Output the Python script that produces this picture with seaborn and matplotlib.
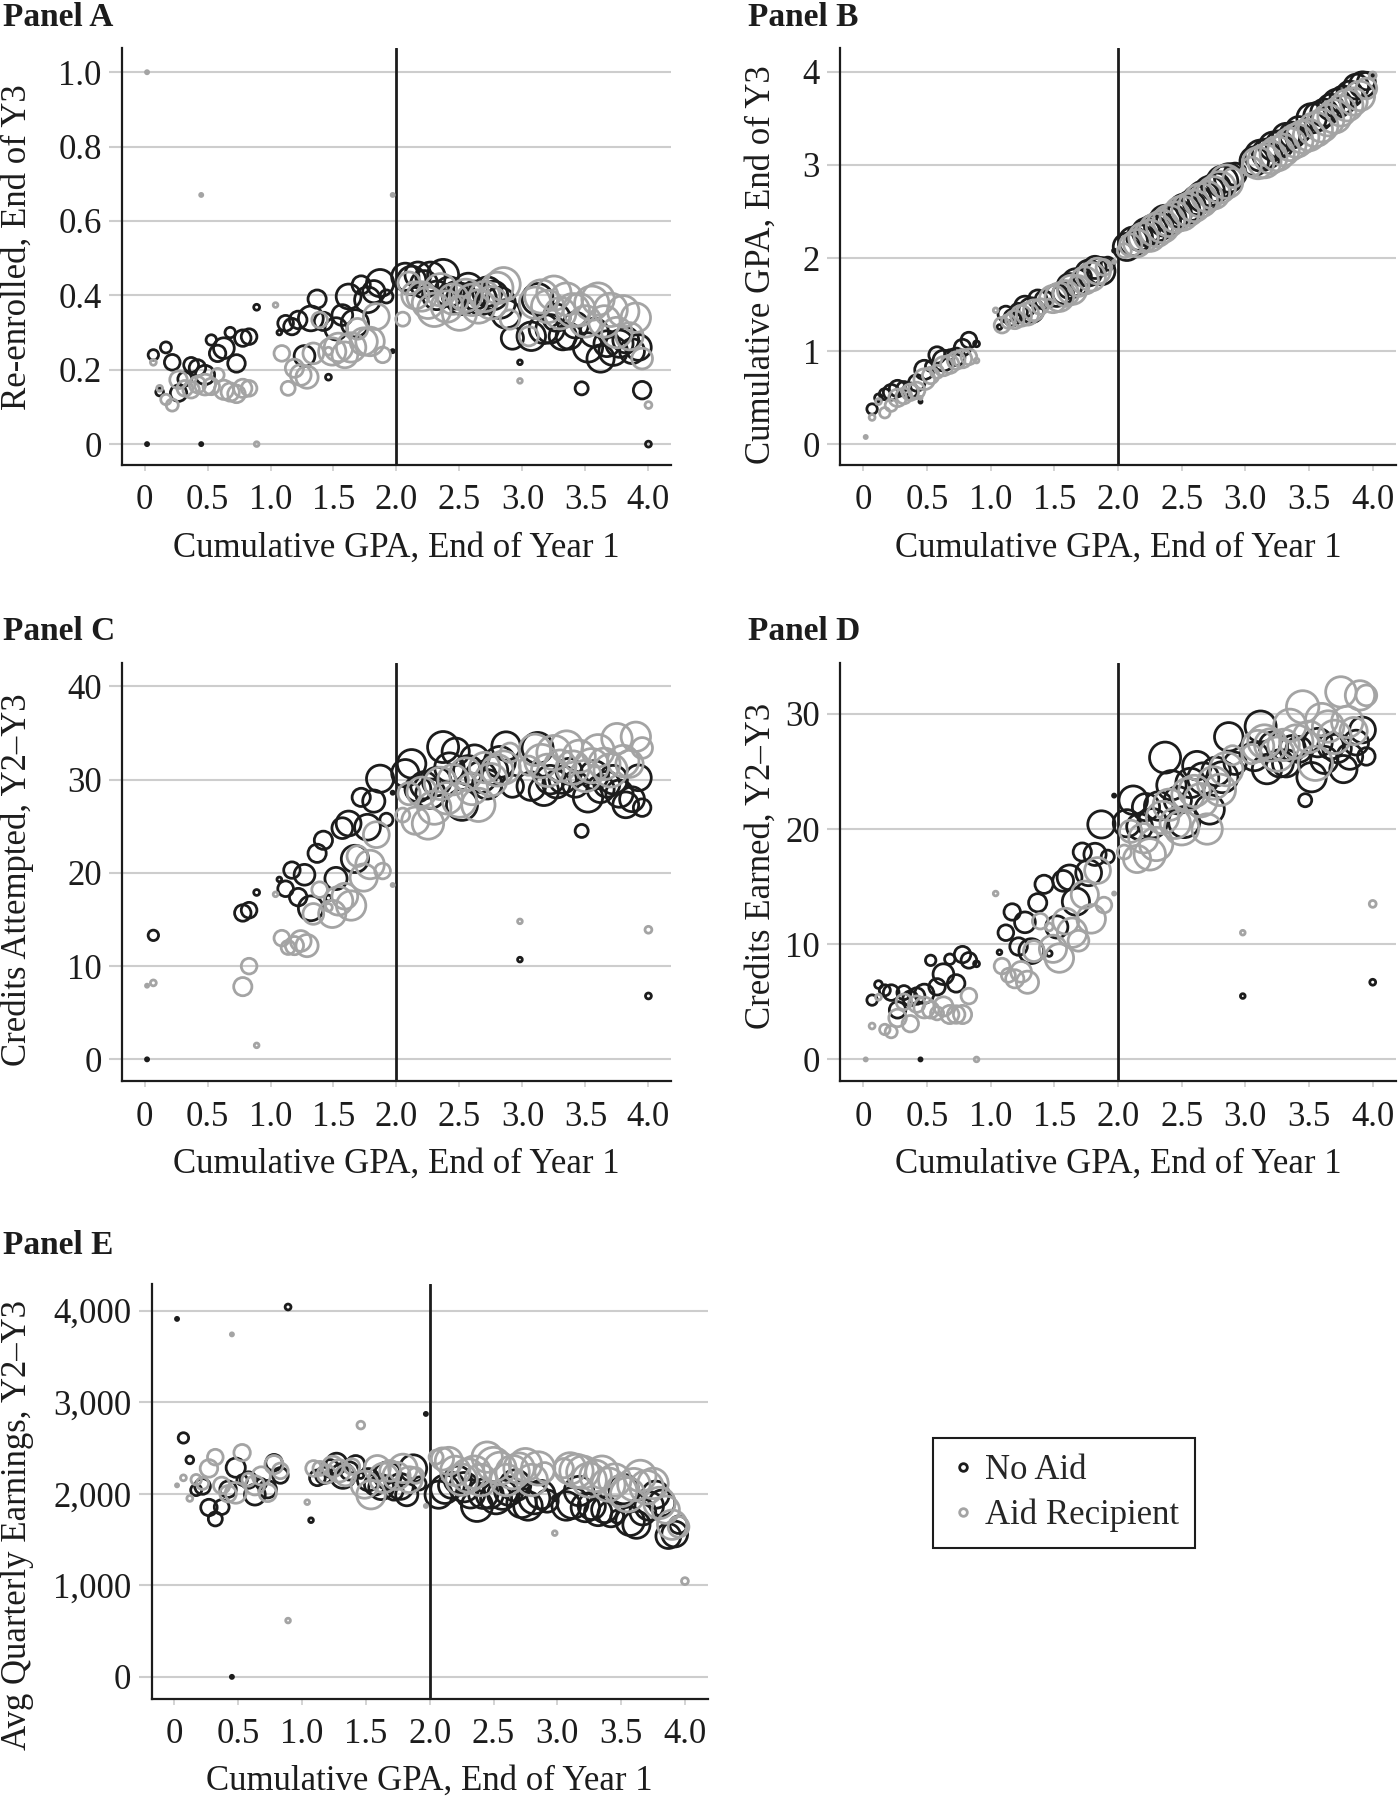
import numpy as np
import pandas as pd
import matplotlib
matplotlib.use("Agg")
import matplotlib.pyplot as plt
from matplotlib.lines import Line2D
import seaborn as sns

NAN = np.nan

# ---------------- data: GPA bins and bin counts (shared by all panels) ----------------
noaid_gpa = [0.02, 0.07, 0.12, 0.17, 0.22, 0.27, 0.32, 0.37, 0.42, 0.45, 0.48, 0.53, 0.58, 0.63, 0.68, 0.73, 0.78, 0.83, 0.89,
             1.07, 1.12, 1.17, 1.22, 1.27, 1.32, 1.37, 1.42, 1.46, 1.52, 1.57, 1.62, 1.67, 1.72, 1.77, 1.82, 1.87, 1.92, 1.97,
             2.07, 2.12, 2.17, 2.22, 2.27, 2.32, 2.37, 2.42, 2.47, 2.52, 2.57, 2.62, 2.67, 2.72, 2.77, 2.82, 2.87, 2.92, 2.98,
             3.07, 3.12, 3.17, 3.22, 3.27, 3.32, 3.37, 3.42, 3.47, 3.52, 3.57, 3.62, 3.67, 3.72, 3.77, 3.82, 3.87, 3.92, 3.95, 4.00]
noaid_n = [1, 9, 5, 10, 20, 22, 16, 18, 22, 1, 30, 9, 22, 35, 9, 25, 22, 20, 3,
           2, 20, 22, 25, 35, 50, 27, 27, 3, 40, 35, 50, 60, 27, 54, 40, 60, 14, 1,
           60, 66, 54, 60, 70, 66, 78, 70, 60, 78, 70, 66, 78, 70, 66, 78, 66, 40, 2,
           66, 78, 70, 66, 60, 60, 54, 54, 14, 70, 66, 60, 54, 66, 60, 54, 50, 54, 25, 3]

aid_gpa = [0.02, 0.07, 0.12, 0.17, 0.22, 0.27, 0.32, 0.37, 0.42, 0.45, 0.48, 0.53, 0.58, 0.63, 0.68, 0.73, 0.78, 0.83, 0.89,
           1.04, 1.09, 1.14, 1.19, 1.24, 1.29, 1.34, 1.39, 1.46, 1.49, 1.54, 1.59, 1.64, 1.69, 1.74, 1.79, 1.84, 1.89, 1.97,
           2.05, 2.10, 2.15, 2.20, 2.25, 2.30, 2.35, 2.40, 2.45, 2.50, 2.55, 2.60, 2.65, 2.70, 2.75, 2.80, 2.85, 2.90, 2.98,
           3.05, 3.10, 3.15, 3.20, 3.25, 3.30, 3.35, 3.40, 3.45, 3.50, 3.55, 3.60, 3.65, 3.70, 3.75, 3.80, 3.85, 3.90, 3.95, 4.00]
aid_n = [1, 3, 3, 9, 12, 25, 20, 22, 22, 1, 35, 22, 14, 30, 27, 25, 27, 20, 2,
         2, 20, 16, 27, 35, 40, 35, 20, 5, 60, 66, 54, 70, 35, 60, 66, 54, 20, 1,
         16, 40, 60, 70, 80, 90, 85, 80, 75, 95, 85, 80, 90, 75, 85, 80, 90, 30, 2,
         30, 80, 90, 85, 95, 80, 85, 90, 85, 80, 95, 85, 80, 90, 75, 80, 60, 70, 35, 4]

# ---------------- Panel A: re-enrolled, end of Y3 ----------------
noaid_reenroll = [0.0, 0.24, 0.14, 0.26, 0.22, 0.137, 0.175, 0.213, 0.205, 0.0, 0.186, 0.28, 0.244, 0.258, 0.30, 0.217, 0.285, 0.289, 0.368,
                  0.30, 0.325, 0.316, 0.334, 0.237, 0.338, 0.39, 0.33, 0.18, 0.31, 0.347, 0.397, 0.325, 0.428, 0.388, 0.41, 0.433, 0.397, 0.25,
                  0.45, 0.44, 0.455, 0.43, 0.45, 0.40, 0.455, 0.41, 0.40, 0.39, 0.42, 0.40, 0.39, 0.41, 0.40, 0.38, 0.35, 0.285, 0.22,
                  0.29, 0.39, 0.31, 0.31, 0.34, 0.29, 0.29, 0.32, 0.15, 0.26, 0.30, 0.23, 0.27, 0.25, 0.27, 0.28, 0.25, 0.26, 0.145, 0.0]
aid_reenroll = [1.0, 0.22, 0.15, 0.12, 0.105, 0.173, 0.15, 0.146, 0.16, 0.67, 0.16, 0.155, 0.186, 0.146, 0.14, 0.135, 0.15, 0.15, 0.0,
                0.374, 0.244, 0.15, 0.204, 0.186, 0.18, 0.244, 0.334, 0.25, 0.249, 0.26, 0.24, 0.26, 0.31, 0.276, 0.276, 0.343, 0.24, 0.67,
                0.336, 0.433, 0.40, 0.397, 0.38, 0.361, 0.415, 0.37, 0.39, 0.352, 0.40, 0.388, 0.37, 0.397, 0.38, 0.42, 0.43, 0.335, 0.17,
                0.29, 0.38, 0.397, 0.37, 0.406, 0.352, 0.39, 0.36, 0.361, 0.33, 0.379, 0.39, 0.33, 0.361, 0.30, 0.357, 0.29, 0.34, 0.23, 0.105]

# ---------------- Panel B: cumulative GPA, end of Y3 ----------------
noaid_gpa_y3 = [NAN, 0.38, 0.50, 0.54, 0.56, 0.60, 0.60, 0.58, 0.66, 0.46, 0.80, 0.84, 0.96, 0.90, 0.96, 0.94, 1.04, 1.12, 1.08,
                1.26, 1.40, 1.36, 1.42, 1.48, 1.44, 1.56, 1.55, 1.50, 1.60, 1.62, 1.70, 1.74, 1.80, 1.84, 1.90, 1.86, 1.94, 2.08,
                2.12, 2.18, 2.22, 2.28, 2.30, 2.34, 2.40, 2.42, 2.48, 2.52, 2.56, 2.62, 2.66, 2.72, 2.76, 2.82, 2.86, 2.90, 2.96,
                3.04, 3.10, 3.12, 3.20, 3.22, 3.30, 3.32, 3.38, 3.42, 3.50, 3.52, 3.56, 3.62, 3.66, 3.70, 3.76, 3.84, 3.86, 3.90, 3.96]
aid_gpa_y3 = [0.08, 0.29, 0.46, 0.34, 0.42, 0.50, 0.52, 0.56, 0.58, 0.50, 0.70, 0.74, 0.78, 0.84, 0.86, 0.90, 0.92, 0.94, 0.90,
              1.44, 1.28, 1.32, 1.34, 1.38, 1.40, 1.44, 1.48, 1.52, 1.56, 1.58, 1.62, 1.66, 1.70, 1.76, 1.80, 1.86, 1.90, 1.96,
              2.08, 2.14, 2.16, 2.22, 2.24, 2.30, 2.34, 2.40, 2.44, 2.48, 2.52, 2.56, 2.62, 2.66, 2.70, 2.76, 2.82, 2.86, 2.94,
              2.98, 3.02, 3.04, 3.08, 3.12, 3.16, 3.22, 3.26, 3.30, 3.32, 3.38, 3.42, 3.48, 3.52, 3.58, 3.64, 3.68, 3.74, 3.82, 3.96]

# ---------------- Panel C: credits attempted, Y2-Y3 ----------------
noaid_attempted = [0.0, 13.3, NAN, NAN, NAN, NAN, NAN, NAN, NAN, NAN, NAN, NAN, NAN, NAN, NAN, NAN, 15.7, 16.0, 17.9,
                   19.3, 18.3, 20.3, 17.4, 19.8, 16.2, 22.1, 23.5, 17.3, 19.4, 24.8, 25.3, 21.5, 28.1, 24.9, 27.7, 30.1, 25.7, 28.6,
                   30.7, 31.7, 29.0, 29.4, 28.5, 29.8, 33.5, 31.3, 33.0, 27.3, 31.0, 32.2, 30.3, 29.5, 31.0, 31.9, 33.6, 29.3, 10.7,
                   29.3, 33.4, 28.8, 30.0, 29.5, 30.0, 30.9, 29.5, 24.5, 28.1, 30.5, 29.0, 29.5, 30.0, 28.5, 27.3, 27.9, 30.2, 27.0, 6.8]
aid_attempted = [7.9, 8.2, NAN, NAN, NAN, NAN, NAN, NAN, NAN, NAN, NAN, NAN, NAN, NAN, NAN, NAN, 7.8, 10.0, 1.5,
                 17.7, 13.0, 12.0, 12.2, 12.7, 12.2, 15.6, 18.2, 16.3, 15.6, 17.0, 17.5, 16.5, 21.8, 19.5, 20.9, 24.1, 20.2, 18.7,
                 26.2, 28.5, 25.6, 28.7, 25.3, 27.0, 29.6, 28.0, 30.0, 27.8, 30.6, 29.0, 27.3, 31.3, 30.0, 31.0, 31.3, 32.9, 14.8,
                 31.5, 33.2, 32.0, 31.0, 32.9, 31.5, 33.5, 31.3, 32.5, 30.4, 31.5, 33.1, 31.7, 31.0, 34.4, 32.0, 31.7, 34.6, 33.4, 13.9]

# ---------------- Panel D: credits earned, Y2-Y3 ----------------
noaid_earned = [NAN, 5.15, 6.5, 6.0, 5.8, 4.3, 5.8, 5.3, 5.5, 0.0, 5.7, 8.6, 6.3, 7.4, 8.7, 6.6, 9.1, 8.6, 8.3,
                9.3, 11.0, 12.8, 9.8, 11.9, 9.4, 13.6, 15.2, 9.2, 11.5, 15.5, 15.8, 13.7, 18.0, 16.2, 17.8, 20.4, 17.6, 22.9,
                20.5, 22.5, 20.2, 21.9, 20.5, 22.0, 26.2, 23.8, 22.5, 20.6, 24.0, 25.5, 24.4, 21.7, 25.0, 24.5, 28.0, 25.7, 5.5,
                26.3, 28.9, 25.2, 27.2, 25.7, 25.7, 27.0, 26.9, 22.5, 24.5, 27.5, 26.0, 27.2, 27.0, 25.2, 26.3, 27.5, 28.6, 26.3, 6.7]
aid_earned = [0.0, 2.9, 5.4, 2.6, 2.4, 3.6, 5.0, 3.1, 4.8, NAN, 4.5, 4.3, 4.0, 4.6, 3.9, 3.9, 3.9, 5.5, 0.0,
              14.4, 8.1, 7.3, 7.0, 7.6, 6.7, 9.4, 12.0, 11.5, 9.6, 8.8, 12.0, 11.0, 10.3, 14.3, 12.2, 16.4, 13.4, 14.4,
              18.0, 19.8, 17.4, 19.2, 17.8, 18.7, 21.0, 22.1, 20.5, 20.1, 23.0, 23.3, 22.5, 20.0, 24.0, 23.4, 25.2, 26.4, 11.0,
              26.5, 27.2, 27.6, 27.3, 26.5, 27.3, 29.0, 27.6, 30.6, 28.0, 25.7, 29.5, 28.9, 28.0, 31.9, 29.3, 28.5, 31.6, 31.6, 13.5]

# ---------------- Panel E: average quarterly earnings, Y2-Y3 ----------------
noaid_earnings = [3910, 2610, 2370, 2040, 2080, 1850, 1725, 1855, 2050, 0, 2285, 2150, 2150, 1990, 2110, 2050, 2340, 2200, 4040,
                  1711, 2174, 2200, 2277, 2330, 2195, 2250, 2318, 2200, 2154, 2100, 2072, 2200, 2030, 2080, 1990, 2277, 2113, 2872,
                  1990, 2050, 2092, 2154, 2072, 2000, 1867, 2000, 1990, 1950, 1990, 2030, 2092, 1900, 1867, 1950, 1990, 1920, 1950,
                  1867, 1900, 2030, 1850, 1867, 1800, 1826, 1780, 1750, 2051, 1700, 1662, 1800, 1867, 1990, 1900, 1538, 1560, 1662, NAN]
aid_earnings = [2092, 2174, 1949, 2154, 2113, 2277, 2400, 2092, 2000, 3741, 2010, 2449, 2154, 2092, 2195, 2010, 2318, 2250, 615,
                1908, 2277, 2277, 2215, 2297, 2250, 2200, 2297, 2750, 2100, 1990, 2277, 2174, 2250, 2195, 2277, 2154, 2200, 1867,
                2400, 2380, 2359, 2250, 2154, 2200, 2236, 2150, 2400, 2320, 2277, 2150, 2236, 2280, 2318, 2150, 2277, 2236, 1570,
                2280, 2277, 2250, 2236, 2150, 2195, 2236, 2100, 2150, 2030, 1990, 2100, 2195, 2072, 2113, 1900, 1826, 1662, 1640, 1046]

x_ticks = [0, 0.5, 1.0, 1.5, 2.0, 2.5, 3.0, 3.5, 4.0]
x_ticklabels = ["0", "0.5", "1.0", "1.5", "2.0", "2.5", "3.0", "3.5", "4.0"]
cutoff = 2.0

panel_titles = ["Panel A", "Panel B", "Panel C", "Panel D", "Panel E"]
y_labels = ["Re-enrolled, End of Y3", "Cumulative GPA, End of Y3", "Credits Attempted, Y2\u2013Y3",
            "Credits Earned, Y2\u2013Y3", "Avg Quarterly Earnings, Y2\u2013Y3"]
y_ticks = [[0, 0.2, 0.4, 0.6, 0.8, 1.0], [0, 1, 2, 3, 4], [0, 10, 20, 30, 40], [0, 10, 20, 30],
           [0, 1000, 2000, 3000, 4000]]
y_ticklabels = [["0", "0.2", "0.4", "0.6", "0.8", "1.0"], ["0", "1", "2", "3", "4"],
                ["0", "10", "20", "30", "40"], ["0", "10", "20", "30"],
                ["0", "1,000", "2,000", "3,000", "4,000"]]
series_noaid = [noaid_reenroll, noaid_gpa_y3, noaid_attempted, noaid_earned, noaid_earnings]
series_aid = [aid_reenroll, aid_gpa_y3, aid_attempted, aid_earned, aid_earnings]
legend_labels = ["No Aid", "Aid Recipient"]

for arr in series_noaid:
    assert len(arr) == len(noaid_gpa)
for arr in series_aid:
    assert len(arr) == len(aid_gpa)
assert len(noaid_n) == len(noaid_gpa) and len(aid_n) == len(aid_gpa)

# ---------------- style / layout ----------------
sns.set_theme(style="white")
plt.rcParams["font.family"] = ["Liberation Serif", "DejaVu Serif"]
plt.rcParams["mathtext.fontset"] = "dejavuserif"

BLACK = "#1c1c1c"
GRAY = "#a4a4a4"
GRID = "#cdcdcd"
FS = 25
SIZE_RANGE = (5, 640)
MARKER_LW = 2.0

fig = plt.figure(figsize=(13.99, 18.0), dpi=100)

rects = [[0.0871, 0.7417, 0.3926, 0.2314],
         [0.6006, 0.7417, 0.3970, 0.2314],
         [0.0871, 0.3994, 0.3926, 0.2322],
         [0.6006, 0.3994, 0.3970, 0.2322],
         [0.1083, 0.0562, 0.3977, 0.2304]]
ylims = [(-0.056, 1.064), (-0.22, 4.25), (-2.33, 42.5), (-1.88, 34.4), (-240, 4290)]
ylabel_pos = [(-0.160, 0.524), (-0.112, 0.48), (-0.160, 0.483), (-0.112, 0.514), (-0.211, 0.42)]
title_pos = [(0.002, 0.999), (0.535, 0.999), (0.002, 0.658), (0.535, 0.658), (0.002, 0.3167)]

for i in range(5):
    ax = fig.add_axes(rects[i])
    ax.set_xlim(-0.18, 4.18)
    ax.set_ylim(*ylims[i])
    ax.set_axisbelow(True)
    ax.yaxis.grid(True, color=GRID, linewidth=1.5)
    ax.xaxis.grid(False)
    ax.axvline(cutoff, color=BLACK, linewidth=2.0, zorder=2)

    df_na = pd.DataFrame({"gpa": noaid_gpa, "y": series_noaid[i], "n": noaid_n})
    df_ai = pd.DataFrame({"gpa": aid_gpa, "y": series_aid[i], "n": aid_n})
    sns.scatterplot(data=df_na, x="gpa", y="y", size="n", sizes=SIZE_RANGE, size_norm=(1, 100),
                    color=BLACK, facecolor="none", edgecolor=BLACK, linewidth=MARKER_LW,
                    legend=False, ax=ax, zorder=3)
    sns.scatterplot(data=df_ai, x="gpa", y="y", size="n", sizes=SIZE_RANGE, size_norm=(1, 100),
                    color=GRAY, facecolor="none", edgecolor=GRAY, linewidth=MARKER_LW,
                    legend=False, ax=ax, zorder=3)

    for side in ["top", "right"]:
        ax.spines[side].set_visible(False)
    for side in ["left", "bottom"]:
        ax.spines[side].set_color(BLACK)
        ax.spines[side].set_linewidth(1.6)

    ax.set_xticks(x_ticks)
    ax.set_xticklabels(x_ticklabels)
    ax.set_yticks(y_ticks[i])
    ax.set_yticklabels(y_ticklabels[i])
    ax.tick_params(axis="y", length=9.5, width=1.5, color=GRID, pad=5, labelsize=FS, labelcolor=BLACK, left=True)
    ax.tick_params(axis="x", length=4, width=1.2, color=GRID, pad=10, labelsize=FS, labelcolor=BLACK, bottom=True)

    ax.set_xlabel("Cumulative GPA, End of Year 1", fontsize=FS, color=BLACK)
    ax.set_ylabel(y_labels[i], fontsize=FS, color=BLACK)
    ax.xaxis.set_label_coords(0.5, -0.16)
    ax.yaxis.set_label_coords(*ylabel_pos[i])

    fig.text(title_pos[i][0], title_pos[i][1], panel_titles[i], fontsize=24, fontweight="bold",
             ha="left", va="top", color=BLACK)

handles = [Line2D([], [], marker="o", linestyle="", markerfacecolor="none", markeredgecolor=BLACK,
                  markeredgewidth=2.0, markersize=5.5, label=legend_labels[0]),
           Line2D([], [], marker="o", linestyle="", markerfacecolor="none", markeredgecolor=GRAY,
                  markeredgewidth=2.0, markersize=5.5, label=legend_labels[1])]
leg = fig.legend(handles=handles, loc="upper left", bbox_to_anchor=(0.667, 0.201), frameon=True,
                 fancybox=False, edgecolor=BLACK, framealpha=1, fontsize=FS, handletextpad=0.25,
                 borderpad=0.45, labelspacing=0.35, handlelength=0.8, borderaxespad=0)
leg.get_frame().set_linewidth(1.5)

fig.savefig("out.png", dpi=100)
